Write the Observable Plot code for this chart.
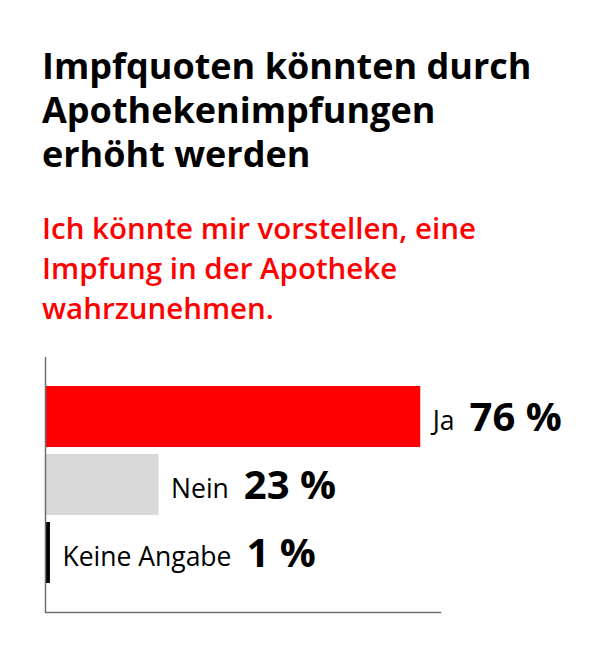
<!DOCTYPE html>
<html>
<head>
<meta charset="utf-8">
<script src="https://cdn.jsdelivr.net/npm/d3@7"></script>
<script src="https://cdn.jsdelivr.net/npm/@observablehq/plot@0.6"></script>
<style>
  body { margin: 0; background: #fff; font-family: "Open Sans", sans-serif; }
  #wrap { position: relative; width: 591px; height: 650px; }
  h1 { position: absolute; left: 42px; top: 44px; margin: 0; font-size: 36px; line-height: 44px; font-weight: 700; color: #000; width: 545px; }
  h2 { position: absolute; left: 42px; top: 208px; margin: 0; font-size: 29.5px; line-height: 40px; font-weight: 600; color: #ff0000; width: 530px; }
  #chart { position: absolute; left: 0; top: 340px; }
</style>
</head>
<body>
<div id="wrap">
  <h1>Impfquoten könnten durch<br>Apothekenimpfungen<br>erhöht werden</h1>
  <h2>Ich könnte mir vorstellen, eine<br>Impfung in der Apotheke<br>wahrzunehmen.</h2>
  <div id="chart"></div>
</div>
<script>
const categories = ["Ja", "Nein", "Keine Angabe"];
const values = [76, 23, 1];
const colors = ["#ff0000", "#d9d9d9", "#000000"];

const data = categories.map((c, i) => ({category: c, value: values[i]}));

const chart = Plot.plot({
  width: 591,
  height: 290,
  marginTop: 17,
  marginBottom: 18,
  marginLeft: 45,
  marginRight: 151,
  style: {fontFamily: "'Open Sans', sans-serif", overflow: "visible"},
  x: {domain: [0, 80], axis: null},
  y: {domain: categories, paddingInner: 0.1, paddingOuter: 0.425, axis: null},
  color: {domain: categories, range: colors},
  marks: [
    Plot.barX(data, {x: "value", y: "category", fill: "category"}),
    Plot.ruleX([0], {stroke: "#6e6e6e", strokeWidth: 1.5}),
    Plot.frame({anchor: "bottom", stroke: "#6e6e6e", strokeWidth: 1.5}),
    Plot.text(data, {
      x: "value", y: "category", text: "category",
      textAnchor: "start", dx: 12, dy: 5, fontSize: 26.5, fill: "#000"
    }),
    Plot.text(data, {
      x: "value", y: "category", text: d => d.value + " %",
      textAnchor: "start", dx: 12, dy: 1, fontSize: 40, fontWeight: 700, fill: "#000"
    })
  ]
});

d3.select("#chart").append(() => chart);

// push the percentages to the right of their labels
const groups = d3.select(chart).selectAll('g[aria-label="text"]').nodes();
const labels = d3.select(groups[0]).selectAll("text").nodes();
const pcts = d3.select(groups[1]).selectAll("text").nodes();
labels.forEach((t, i) => {
  pcts[i].setAttribute("dx", t.getComputedTextLength() + 15);
});
</script>
</body>
</html>
